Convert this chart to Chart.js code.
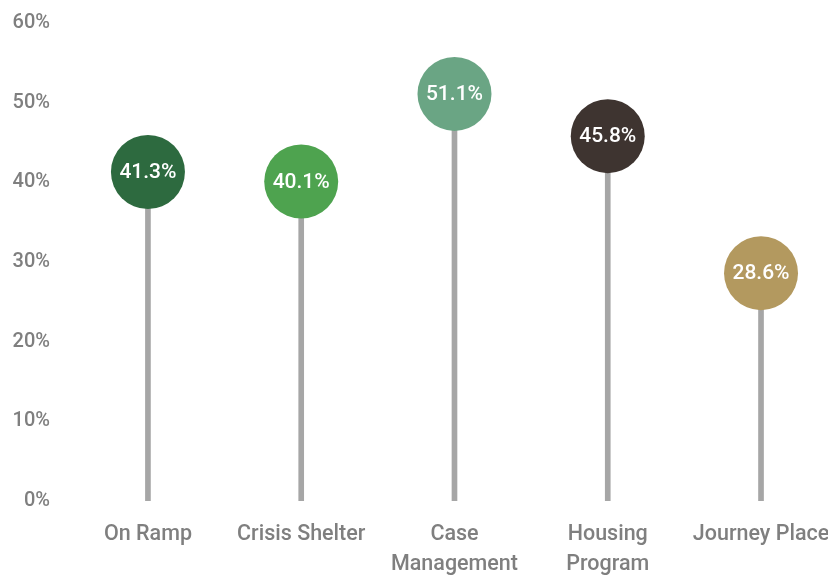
<!DOCTYPE html>
<html>
<head>
<meta charset="utf-8">
<script src="https://cdn.jsdelivr.net/npm/chart.js@4"></script>
<style>
  html, body { margin: 0; padding: 0; background: #fff; }
  #wrap { width: 828px; height: 575px; }
</style>
</head>
<body>
<div id="wrap"><canvas id="lollipop"></canvas></div>
<script>
const categories = [['On Ramp'], ['Crisis Shelter'], ['Case', 'Management'], ['Housing', 'Program'], ['Journey Place']];
const values = [41.3, 40.1, 51.1, 45.8, 28.6];
const dotColors = ['#2d6a3f', '#4ea34f', '#6aa584', '#3e3430', '#b3995f'];
const yTicks = [0, 10, 20, 30, 40, 50, 60];

const FONT = "'Roboto', sans-serif";
const ctx = document.getElementById('lollipop');

const points = values.map((v, i) => ({ x: i, y: v }));

const valueLabels = {
  id: 'valueLabels',
  afterDatasetsDraw(chart) {
    const meta = chart.getDatasetMeta(1);
    const c = chart.ctx;
    c.save();
    c.fillStyle = '#ffffff';
    c.font = "500 21px " + FONT;
    c.textAlign = 'center';
    c.textBaseline = 'middle';
    meta.data.forEach((pt, i) => {
      c.fillText(values[i].toFixed(1) + '%', pt.x, pt.y + 1);
    });
    c.restore();
  }
};

new Chart(ctx, {
  data: {
    datasets: [{
      type: 'bar',
      data: points,
      backgroundColor: '#a6a6a6',
      barThickness: 5,
      order: 2
    }, {
      type: 'scatter',
      data: points,
      pointRadius: 37,
      pointHoverRadius: 37,
      pointBackgroundColor: dotColors,
      pointBorderWidth: 0,
      clip: false,
      order: 1
    }]
  },
  options: {
    responsive: true,
    maintainAspectRatio: false,
    animation: false,
    layout: { autoPadding: false, padding: { top: 23, right: 0, left: 0, bottom: 0 } },
    plugins: { legend: { display: false }, tooltip: { enabled: false } },
    scales: {
      x: {
        type: 'linear',
        offset: false,
        min: -0.502,
        max: 4.437,
        grid: { display: false, drawTicks: false },
        border: { display: false },
        afterBuildTicks: axis => { axis.ticks = categories.map((_, i) => ({ value: i })); },
        afterFit: axis => {
          axis.height = 74;
          axis.paddingLeft = 0;
          axis.paddingRight = 0;
        },
        ticks: {
          autoSkip: false,
          maxRotation: 0,
          padding: 19,
          color: '#7f7f7f',
          font: { family: FONT, size: 21.5, weight: '500', lineHeight: 1.39 },
          callback: v => categories[v]
        }
      },
      y: {
        min: 0,
        max: 60,
        grid: { display: false, drawTicks: false },
        border: { display: false },
        afterBuildTicks: axis => { axis.ticks = yTicks.map(v => ({ value: v })); },
        afterFit: axis => {
          axis.width = 71;
          axis.paddingTop = 0;
          axis.paddingBottom = 0;
        },
        ticks: {
          padding: 21,
          color: '#7f7f7f',
          font: { family: FONT, size: 20, weight: '500' },
          callback: v => v + '%'
        }
      }
    }
  },
  plugins: [valueLabels]
});
</script>
</body>
</html>
